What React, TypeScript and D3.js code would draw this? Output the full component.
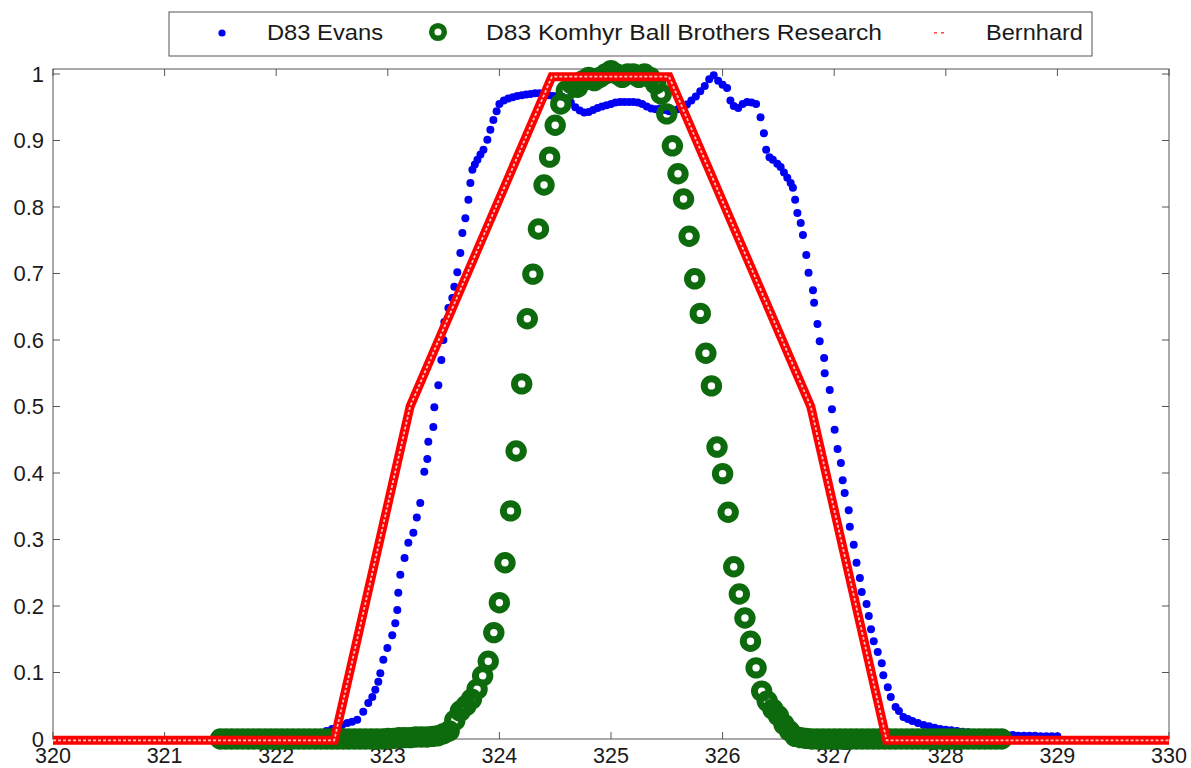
import React from "react";
import * as d3 from "d3";

const xTicks = [320, 321, 322, 323, 324, 325, 326, 327, 328, 329, 330];
const yTicks = [0, 0.1, 0.2, 0.3, 0.4, 0.5, 0.6, 0.7, 0.8, 0.9, 1];
const yTickLabels = ["0", "0.1", "0.2", "0.3", "0.4", "0.5", "0.6", "0.7", "0.8", "0.9", "1"];
const seriesNames = ["D83 Evans", "D83 Komhyr Ball Brothers Research", "Bernhard"];

const evansWavelength = [
  322.45, 322.5, 322.547, 322.59, 322.637, 322.68, 322.726, 322.78, 322.825, 322.861, 322.888, 322.915,
  322.933, 322.96, 322.996, 323.04, 323.067, 323.085, 323.094, 323.112, 323.15, 323.184, 323.229, 323.26,
  323.291, 323.327, 323.354, 323.363, 323.408, 323.417, 323.453, 323.48, 323.498, 323.507, 323.543, 323.578,
  323.596, 323.623, 323.65, 323.668, 323.695, 323.722, 323.74, 323.758, 323.78, 323.803, 323.83, 323.857,
  323.892, 323.919, 323.946, 323.975, 324.0, 324.04, 324.08, 324.12, 324.16, 324.2, 324.24, 324.28, 324.32,
  324.36, 324.4, 324.44, 324.48, 324.52, 324.56, 324.6, 324.64, 324.68, 324.72, 324.76, 324.8, 324.84,
  324.88, 324.92, 324.96, 325.0, 325.04, 325.08, 325.12, 325.16, 325.2, 325.24, 325.28, 325.32, 325.36,
  325.4, 325.44, 325.48, 325.52, 325.56, 325.6, 325.64, 325.68, 325.72, 325.76, 325.8, 325.84, 325.88,
  325.92, 325.96, 326.0, 326.04, 326.07, 326.1, 326.14, 326.18, 326.22, 326.26, 326.3, 326.34, 326.37,
  326.39, 326.42, 326.45, 326.49, 326.52, 326.55, 326.58, 326.61, 326.63, 326.65, 326.67, 326.7, 326.72,
  326.75, 326.77, 326.81, 326.82, 326.85, 326.87, 326.91, 326.915, 326.96, 326.98, 327.004, 327.03, 327.06,
  327.076, 327.094, 327.13, 327.14, 327.175, 327.2, 327.23, 327.247, 327.29, 327.31, 327.33, 327.354,
  327.39, 327.426, 327.44, 327.48, 327.507, 327.55, 327.58, 327.62, 327.66, 327.7, 327.75, 327.8, 327.85,
  327.9, 327.95, 328.0, 328.05, 328.1, 328.15, 328.2, 328.25, 328.3, 328.35, 328.4, 328.45, 328.5, 328.55,
  328.6, 328.65, 328.7, 328.75, 328.8, 328.85, 328.9, 328.95, 329.0,
];
const evansResponse = [
  0.012, 0.015, 0.018, 0.021, 0.024, 0.026, 0.029, 0.041, 0.054, 0.063, 0.074, 0.086,
  0.099, 0.119, 0.137, 0.156, 0.174, 0.194, 0.22, 0.247, 0.272, 0.295, 0.31, 0.333,
  0.355, 0.402, 0.421, 0.447, 0.469, 0.499, 0.532, 0.57, 0.6, 0.627, 0.648, 0.663,
  0.68, 0.702, 0.731, 0.761, 0.783, 0.811, 0.836, 0.856, 0.864, 0.871, 0.879, 0.886,
  0.901, 0.916, 0.931, 0.944, 0.955, 0.96, 0.963, 0.965, 0.967, 0.968, 0.969, 0.97, 0.971,
  0.971, 0.97, 0.968, 0.967, 0.967, 0.966, 0.963, 0.957, 0.95, 0.945, 0.942, 0.943, 0.946,
  0.949, 0.951, 0.953, 0.955, 0.957, 0.958, 0.958, 0.958, 0.958, 0.957, 0.955, 0.951, 0.948,
  0.947, 0.948, 0.946, 0.944, 0.945, 0.947, 0.95, 0.954, 0.96, 0.966, 0.974, 0.982, 0.992,
  0.998, 0.99, 0.984, 0.979, 0.96, 0.952, 0.949, 0.955, 0.958, 0.957, 0.955, 0.935, 0.911,
  0.886, 0.875, 0.871, 0.865, 0.86, 0.852, 0.844, 0.836, 0.829, 0.811, 0.791, 0.776, 0.758,
  0.728, 0.701, 0.675, 0.656, 0.624, 0.598, 0.573, 0.55, 0.525, 0.496, 0.465, 0.436, 0.415,
  0.389, 0.37, 0.344, 0.319, 0.292, 0.265, 0.242, 0.221, 0.203, 0.185, 0.165, 0.147,
  0.131, 0.114, 0.096, 0.078, 0.063, 0.048, 0.042, 0.033, 0.03, 0.027, 0.024, 0.021, 0.019,
  0.017, 0.015, 0.014, 0.013, 0.012, 0.011, 0.01, 0.009, 0.009, 0.008, 0.008, 0.007, 0.007, 0.006,
  0.006, 0.005, 0.005, 0.005, 0.005, 0.004, 0.004, 0.004, 0.004,
];

const komhyrStart = 321.5;
const komhyrStep = 0.05;
const komhyrResponse = [
  // 321.50 - 322.45
  0, 0, 0, 0, 0, 0, 0, 0, 0, 0, 0, 0, 0, 0, 0, 0, 0, 0, 0, 0,
  // 322.50 - 323.45
  0, 0, 0, 0, 0, 0, 0, 0, 0, 0, 0.001, 0.001, 0.002, 0.002, 0.002, 0.003, 0.003, 0.003, 0.004, 0.005,
  // 323.50 - 324.45
  0.008, 0.012, 0.028, 0.042, 0.05, 0.06, 0.075, 0.095, 0.117, 0.16, 0.205, 0.265, 0.343, 0.433, 0.534, 0.632, 0.699, 0.767, 0.833, 0.875,
  // 324.50 - 325.45
  0.923, 0.955, 0.975, 0.985, 0.98, 0.99, 0.995, 0.99, 0.995, 1.0, 1.005, 1.0, 0.995, 1.0, 1.0, 0.995, 1.0, 0.995, 0.985, 0.97,
  // 325.50 - 326.45
  0.94, 0.892, 0.85, 0.812, 0.756, 0.692, 0.64, 0.58, 0.531, 0.439, 0.399, 0.341, 0.259, 0.218, 0.182, 0.147, 0.107, 0.072, 0.057, 0.045,
  // 326.50 - 327.45
  0.035, 0.022, 0.012, 0.004, 0.002, 0.001, 0, 0, 0, 0, 0, 0, 0, 0, 0, 0, 0, 0, 0, 0,
  // 327.50 - 328.50
  0, 0, 0, 0, 0, 0, 0, 0, 0, 0, 0, 0, 0, 0, 0, 0, 0, 0, 0, 0, 0,
];

const bernhardWavelength = [320, 322.52, 323.2, 324.47, 325.52, 326.79, 327.47, 330];
const bernhardResponse = [-0.002, -0.002, 0.5, 0.996, 0.996, 0.5, -0.002, -0.002];

const W = 1191;
const H = 768;
const FONT = "'Liberation Sans', Arial, Helvetica, sans-serif";

export default function App() {
  const x = d3.scaleLinear().domain([320, 330]).range([53, 1169]);
  const y = d3.scaleLinear().domain([0, 1]).range([739, 74]);
  const plotTop = 69;
  const plotBottom = 739;
  const [x0, x1] = x.range();

  const evans = evansWavelength.map((w, i) => [w, evansResponse[i]]);
  const komhyr = komhyrResponse.map((v, i) => [komhyrStart + i * komhyrStep, v]);
  const bernhard = bernhardWavelength.map((w, i) => [w, bernhardResponse[i]]);

  const line = d3
    .line<number[]>()
    .x((d) => x(d[0]))
    .y((d) => y(d[1]));
  const redPath = line(bernhard) || "";

  const axisColor = "#555";
  const tickLen = 7;
  const green = "#0d6a0d";
  const blue = "#0000f5";
  const red = "#ff0000";
  const textColor = "#1a1a1a";

  return (
    <svg
      width={W}
      height={H}
      style={{ position: "absolute", left: 0, top: 0, background: "#fff" }}
      fontFamily={FONT}
    >
      <rect x={0} y={0} width={W} height={H} fill="#fff" />
      {/* axes box */}
      <rect x={x0} y={plotTop} width={x1 - x0} height={plotBottom - plotTop} fill="none" stroke={axisColor} strokeWidth={1} />
      {/* x ticks */}
      {xTicks.map((t) => (
        <g key={"xt" + t}>
          <line x1={x(t)} x2={x(t)} y1={plotBottom} y2={plotBottom - tickLen} stroke={axisColor} strokeWidth={1} />
          <line x1={x(t)} x2={x(t)} y1={plotTop} y2={plotTop + tickLen} stroke={axisColor} strokeWidth={1} />
          <text x={x(t)} y={763} fontSize={21.5} textAnchor="middle" fill={textColor}>
            {t}
          </text>
        </g>
      ))}
      {/* y ticks */}
      {yTicks.map((t, i) => (
        <g key={"yt" + t}>
          <line x1={x0} x2={x0 + tickLen} y1={y(t)} y2={y(t)} stroke={axisColor} strokeWidth={1} />
          <line x1={x1} x2={x1 - tickLen} y1={y(t)} y2={y(t)} stroke={axisColor} strokeWidth={1} />
          <text x={44} y={y(t) + 7.5} fontSize={22} textAnchor="end" fill={textColor}>
            {yTickLabels[i]}
          </text>
        </g>
      ))}

      {/* Evans */}
      <g fill={blue}>
        {evans.map((d, i) => (
          <circle key={"e" + i} cx={x(d[0])} cy={y(d[1])} r={4} />
        ))}
      </g>
      {/* Komhyr */}
      <g fill="none" stroke={green} strokeWidth={7}>
        {komhyr.map((d, i) => (
          <circle key={"k" + i} cx={x(d[0])} cy={y(d[1])} r={7.2} />
        ))}
      </g>
      {/* Bernhard */}
      <path d={redPath} fill="none" stroke={red} strokeWidth={9} strokeLinejoin="miter" />
      <path d={redPath} fill="none" stroke="#ffc4c4" strokeWidth={1.8} strokeDasharray="3 2" />

      {/* legend */}
      <rect x={169} y={12} width={923} height={44} fill="#fff" stroke={axisColor} strokeWidth={1} />
      <circle cx={222} cy={33} r={3.6} fill={blue} />
      <text x={267} y={40} fontSize={22} fill={textColor} textLength={116} lengthAdjust="spacingAndGlyphs">
        {seriesNames[0]}
      </text>
      <circle cx={438} cy={32} r={6.3} fill="none" stroke={green} strokeWidth={5.5} />
      <text x={486} y={40} fontSize={22} fill={textColor} textLength={396} lengthAdjust="spacingAndGlyphs">
        {seriesNames[1]}
      </text>
      <rect x={934} y={32} width={3} height={1.6} fill={red} opacity={0.7} />
      <rect x={941} y={32} width={3} height={1.6} fill={red} opacity={0.7} />
      <text x={986} y={40} fontSize={22} fill={textColor} textLength={97} lengthAdjust="spacingAndGlyphs">
        {seriesNames[2]}
      </text>
    </svg>
  );
}
